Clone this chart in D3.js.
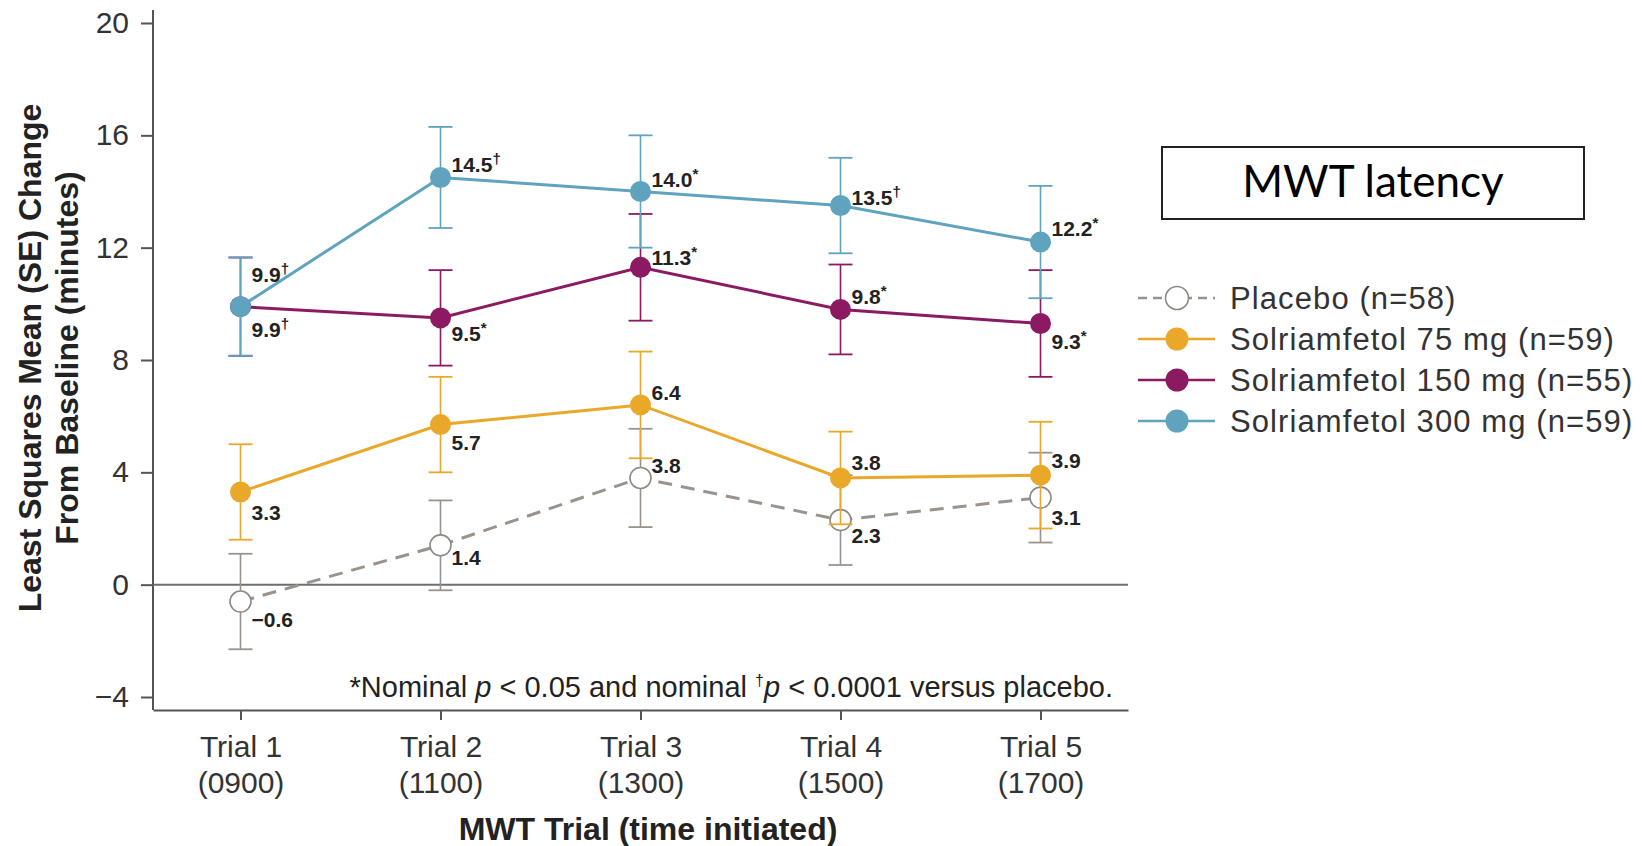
<!DOCTYPE html>
<html>
<head>
<meta charset="utf-8">
<script src="https://d3js.org/d3.v7.min.js"></script>
<style>
  body { margin: 0; background: #fff; }
  text { font-family: "Liberation Sans", Arial, sans-serif; }
</style>
</head>
<body>
<svg width="1642" height="846"></svg>
<script>
// values
const trials = ["Trial 1", "Trial 2", "Trial 3", "Trial 4", "Trial 5"];
const times = ["(0900)", "(1100)", "(1300)", "(1500)", "(1700)"];
const yTicks = [-4, 0, 4, 8, 12, 16, 20];

const placebo = [-0.6, 1.4, 3.8, 2.3, 3.1];
const placeboSE = [1.7, 1.6, 1.75, 1.6, 1.6];
const placeboMarks = ["", "", "", "", ""];

const mg75 = [3.3, 5.7, 6.4, 3.8, 3.9];
const mg75SE = [1.7, 1.7, 1.9, 1.65, 1.9];
const mg75Marks = ["", "", "", "", ""];

const mg150 = [9.9, 9.5, 11.3, 9.8, 9.3];
const mg150SE = [1.75, 1.7, 1.9, 1.6, 1.9];
const mg150Marks = ["†", "*", "*", "*", "*"];

const mg300 = [9.9, 14.5, 14.0, 13.5, 12.2];
const mg300SE = [1.75, 1.8, 2.0, 1.7, 2.0];
const mg300Marks = ["†", "†", "*", "†", "*"];

const legendNames = ["Placebo (n=58)", "Solriamfetol 75 mg (n=59)", "Solriamfetol 150 mg (n=55)", "Solriamfetol 300 mg (n=59)"];

// label placement (px above/below the point)
const placeboDy = [17, 12, -13, 15, 19];
const mg75Dy = [20, 17, -13, -16, -15];
const mg150Dy = [22, 15, -10, -13, 18];
const mg300Dy = [-33, -13, -13, -9, -14];

const series = [
  {name: legendNames[0], vals: placebo, se: placeboSE, marks: placeboMarks, dy: placeboDy, color: "#9a938d", open: true},
  {name: legendNames[1], vals: mg75, se: mg75SE, marks: mg75Marks, dy: mg75Dy, color: "#eaa82a"},
  {name: legendNames[2], vals: mg150, se: mg150SE, marks: mg150Marks, dy: mg150Dy, color: "#8b1a63"},
  {name: legendNames[3], vals: mg300, se: mg300SE, marks: mg300Marks, dy: mg300Dy, color: "#5fa3bf"}
];

const svg = d3.select("svg");
const left = 153, right = 1128;

const x = d3.scalePoint().domain(trials).range([left, right]).padding(0.4375);
const y = d3.scaleLinear().domain([-4, 20]).range([697, 23]);
const axisCol = "#555";

// y axis
const gy = svg.append("g").attr("transform", "translate(" + left + ",0)")
  .call(d3.axisLeft(y).tickValues(yTicks).tickSize(12).tickPadding(12)
    .tickFormat(d => d < 0 ? "\u2212" + Math.abs(d) : d));
gy.select(".domain").remove();
gy.selectAll(".tick line").attr("stroke", axisCol).attr("stroke-width", 2);
gy.selectAll(".tick text").attr("font-size", 30).attr("fill", "#333")
  .attr("font-family", "Liberation Sans, Arial, sans-serif");
svg.append("line").attr("x1", left).attr("x2", left)
  .attr("y1", y(20) - 13).attr("y2", y(-4) + 13)
  .attr("stroke", axisCol).attr("stroke-width", 2);

// x axis
const xBase = y(-4) + 13;
const gx = svg.append("g").attr("transform", "translate(0," + xBase + ")")
  .call(d3.axisBottom(x).tickSize(10).tickSizeOuter(0).tickFormat(""));
gx.select(".domain").attr("stroke", axisCol).attr("stroke-width", 2);
gx.selectAll(".tick line").attr("stroke", axisCol).attr("stroke-width", 2);
gx.selectAll(".tick").append("text").attr("y", 47).attr("text-anchor", "middle")
  .attr("font-size", 30).attr("fill", "#333").text(d => d);
gx.selectAll(".tick").append("text").attr("y", 83).attr("text-anchor", "middle")
  .attr("font-size", 30).attr("fill", "#333").text((d, i) => times[i]);

// zero line
svg.append("line").attr("x1", left).attr("x2", right)
  .attr("y1", y(0)).attr("y2", y(0))
  .attr("stroke", "#6e6e6e").attr("stroke-width", 2);

// axis titles
svg.append("text").attr("x", 648).attr("y", 840).attr("text-anchor", "middle")
  .attr("font-size", 32).attr("font-weight", "bold").attr("fill", "#222")
  .text("MWT Trial (time initiated)");
const yt = svg.append("text").attr("transform", "translate(41,358) rotate(-90)")
  .attr("text-anchor", "middle").attr("font-size", 32).attr("font-weight", "bold").attr("fill", "#222");
yt.append("tspan").attr("x", 0).attr("dy", 0).text("Least Squares Mean (SE) Change");
yt.append("tspan").attr("x", 0).attr("dy", 37).text("From Baseline (minutes)");

// footnote
const fn = svg.append("text").attr("x", 1113).attr("y", 697).attr("text-anchor", "end")
  .attr("font-size", 29).attr("fill", "#222");
fn.append("tspan").text("*Nominal ");
fn.append("tspan").attr("font-style", "italic").text("p");
fn.append("tspan").text(" < 0.05 and nominal ");
fn.append("tspan").attr("font-size", 16).attr("dy", -11).text("†");
fn.append("tspan").attr("font-style", "italic").attr("dy", 11).text("p");
fn.append("tspan").text(" < 0.0001 versus placebo.");

// series
const line = d3.line().x((d, i) => x(trials[i])).y(d => y(d));
const capW = 12;

series.forEach(s => {
  const g = svg.append("g");
  g.append("path").datum(s.vals).attr("d", line).attr("fill", "none")
    .attr("stroke", s.color).attr("stroke-width", 3)
    .attr("stroke-dasharray", s.open ? "14,9" : null);
  s.vals.forEach((v, i) => {
    const cx = x(trials[i]);
    const lo = y(v - s.se[i]), hi = y(v + s.se[i]);
    g.append("line").attr("x1", cx).attr("x2", cx).attr("y1", lo).attr("y2", hi)
      .attr("stroke", s.color).attr("stroke-width", 1.6);
    [lo, hi].forEach(yy => g.append("line").attr("x1", cx - capW).attr("x2", cx + capW)
      .attr("y1", yy).attr("y2", yy).attr("stroke", s.color).attr("stroke-width", 1.8));
  });
  g.selectAll("circle").data(s.vals).join("circle")
    .attr("cx", (d, i) => x(trials[i])).attr("cy", d => y(d)).attr("r", 10.5)
    .attr("fill", s.open ? "#fff" : s.color)
    .attr("stroke", s.open ? "#8f8983" : "none").attr("stroke-width", 1.6);
});

// value labels
series.forEach(s => {
  s.vals.forEach((v, i) => {
    const t = svg.append("text").attr("x", x(trials[i]) + 11).attr("y", y(v) + s.dy[i])
      .attr("dominant-baseline", "central").attr("font-size", 21).attr("font-weight", "bold")
      .attr("fill", "#222");
    t.append("tspan").text(v < 0 ? "\u2212" + Math.abs(v).toFixed(1) : v.toFixed(1));
    if (s.marks[i]) t.append("tspan").attr("font-size", 15).attr("dy", -6).text(s.marks[i]);
  });
});

// title box
svg.append("rect").attr("x", 1162).attr("y", 147).attr("width", 422).attr("height", 72)
  .attr("fill", "#fff").attr("stroke", "#222").attr("stroke-width", 2);
svg.append("text").attr("x", 1373).attr("y", 197).attr("text-anchor", "middle")
  .attr("font-size", 44).attr("fill", "#000").style("font-family", "Lato, 'Open Sans', sans-serif")
  .text("MWT latency");

// legend
const lg = svg.append("g").attr("transform", "translate(1138,298)");
series.forEach((s, i) => {
  const row = lg.append("g").attr("transform", "translate(0," + i * 41 + ")");
  row.append("line").attr("x1", 0).attr("x2", 77).attr("y1", 0).attr("y2", 0)
    .attr("stroke", s.color).attr("stroke-width", 2.5)
    .attr("stroke-dasharray", s.open ? "9,6" : null);
  row.append("circle").attr("cx", 39).attr("cy", 0).attr("r", 11.5)
    .attr("fill", s.open ? "#fff" : s.color)
    .attr("stroke", s.open ? "#8f8983" : "none").attr("stroke-width", 1.6);
  row.append("text").attr("x", 92).attr("y", 0).attr("dominant-baseline", "central")
    .attr("font-size", 31).attr("letter-spacing", 1.1).attr("fill", "#333").text(s.name);
});
</script>
</body>
</html>
